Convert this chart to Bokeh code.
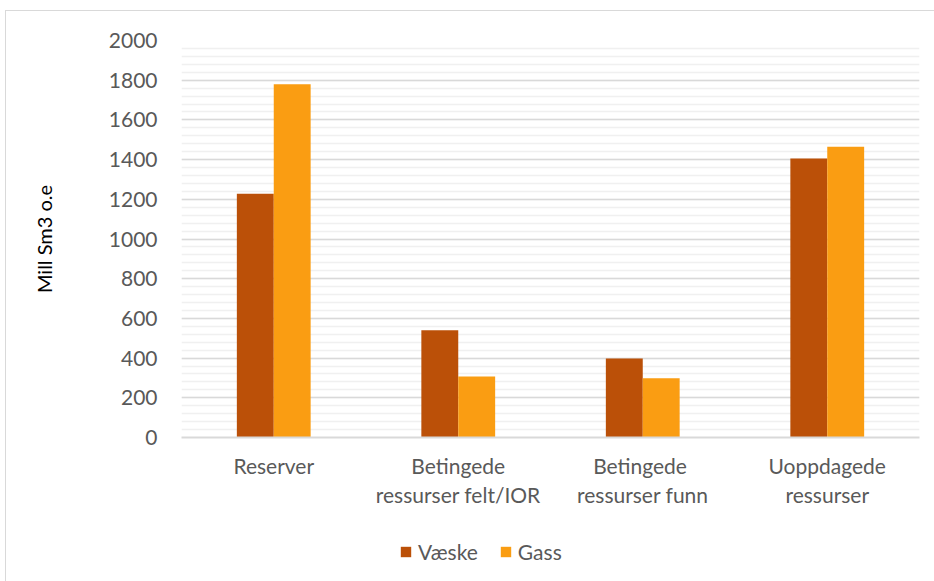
from bokeh.plotting import figure
from bokeh.models import (ColumnDataSource, SingleIntervalTicker, Legend, LegendItem, Range1d,
                          CategoricalAxis, FactorRange)
from bokeh.layouts import column
from bokeh.transform import dodge
from bokeh.embed import file_html
from bokeh.resources import INLINE

categories = ["Reserver", "Betingede ressurser felt/IOR", "Betingede ressurser funn", "Uoppdagede ressurser"]
label_line1 = ["Reserver", "Betingede", "Betingede", "Uoppdagede"]
label_line2 = ["", "ressurser felt/IOR", "ressurser funn", "ressurser"]
vaeske = [1228, 540, 398, 1405]
gass = [1780, 307, 298, 1465]
series_names = ["Væske", "Gass"]

FONT = "Lato"
FS = "21px"
C_V = "#BB5008"
C_G = "#FA9D12"
GREY = "#595959"


def unique(labels):
    out = []
    for s in labels:
        s = s if s else " "
        while s in out:
            s = s + " "
        out.append(s)
    return out


src = ColumnDataSource(dict(cat=categories, v=vaeske, g=gass))

p = figure(x_range=FactorRange(factors=categories), y_range=Range1d(0, 2000), width=929, height=500,
           output_backend="svg", toolbar_location=None, x_axis_location=None,
           min_border_left=175, min_border_right=16, min_border_top=29, min_border_bottom=74)
p.extra_x_ranges = {"l1": FactorRange(factors=unique(label_line1)),
                    "l2": FactorRange(factors=unique(label_line2))}

r1 = p.vbar(x=dodge("cat", -0.1, range=p.x_range), top="v", width=0.2, source=src,
            fill_color=C_V, line_color=None)
r2 = p.vbar(x=dodge("cat", 0.1, range=p.x_range), top="g", width=0.2, source=src,
            fill_color=C_G, line_color=None)

p.outline_line_color = None

ax = p.yaxis[0]
ax.ticker = SingleIntervalTicker(interval=200, num_minor_ticks=5)
ax.axis_line_color = None
ax.major_tick_line_color = None
ax.minor_tick_line_color = None
ax.major_label_text_font = FONT
ax.major_label_text_font_size = FS
ax.major_label_text_color = GREY
ax.major_label_standoff = 18
ax.axis_label = "Mill Sm3 o.e"
ax.axis_label_text_font = FONT
ax.axis_label_text_font_size = "20px"
ax.axis_label_text_font_style = "normal"
ax.axis_label_text_color = "#000000"
ax.axis_label_standoff = 50

xa1 = CategoricalAxis(x_range_name="l1", axis_line_color="#d9d9d9", axis_line_width=2,
                      major_tick_line_color=None, minor_tick_line_color=None,
                      major_label_text_font=FONT, major_label_text_font_size=FS,
                      major_label_text_color=GREY, major_label_standoff=9)
xa2 = CategoricalAxis(x_range_name="l2", axis_line_color=None,
                      major_tick_line_color=None, minor_tick_line_color=None,
                      major_label_text_font=FONT, major_label_text_font_size=FS,
                      major_label_text_color=GREY, major_label_standoff=-5)
p.add_layout(xa1, "below")
p.add_layout(xa2, "below")

for g in p.grid:
    if g.dimension == 0:
        g.visible = False
p.ygrid.grid_line_color = "#d9d9d9"
p.ygrid.grid_line_width = 1.5
p.ygrid.minor_grid_line_color = "#f0f0f0"
p.ygrid.minor_grid_line_width = 1.5

# legend panel
p2 = figure(width=929, height=71, output_backend="svg", toolbar_location=None,
            x_axis_location=None, y_axis_location=None,
            min_border_left=0, min_border_right=0, min_border_top=8, min_border_bottom=0)
p2.outline_line_color = None
p2.grid.visible = False
d1 = p2.vbar(x=[0], top=[0], width=0.5, fill_color=C_V, line_color=None)
d2 = p2.vbar(x=[1], top=[0], width=0.5, fill_color=C_G, line_color=None)
legend = Legend(items=[LegendItem(label=series_names[0], renderers=[d1]),
                       LegendItem(label=series_names[1], renderers=[d2])],
                orientation="horizontal", location=(218, 18),
                label_text_font=FONT, label_text_font_size=FS, label_text_color=GREY,
                glyph_width=13, glyph_height=13, spacing=21, label_standoff=6,
                border_line_color=None, background_fill_alpha=0, margin=0, padding=2)
p2.add_layout(legend, "center")

layout = column(p, p2, spacing=0)
layout.styles = {"border": "1px solid #d9d9d9", "margin-left": "5px", "margin-top": "10px"}

open("out.html", "w").write(file_html(layout, INLINE))
